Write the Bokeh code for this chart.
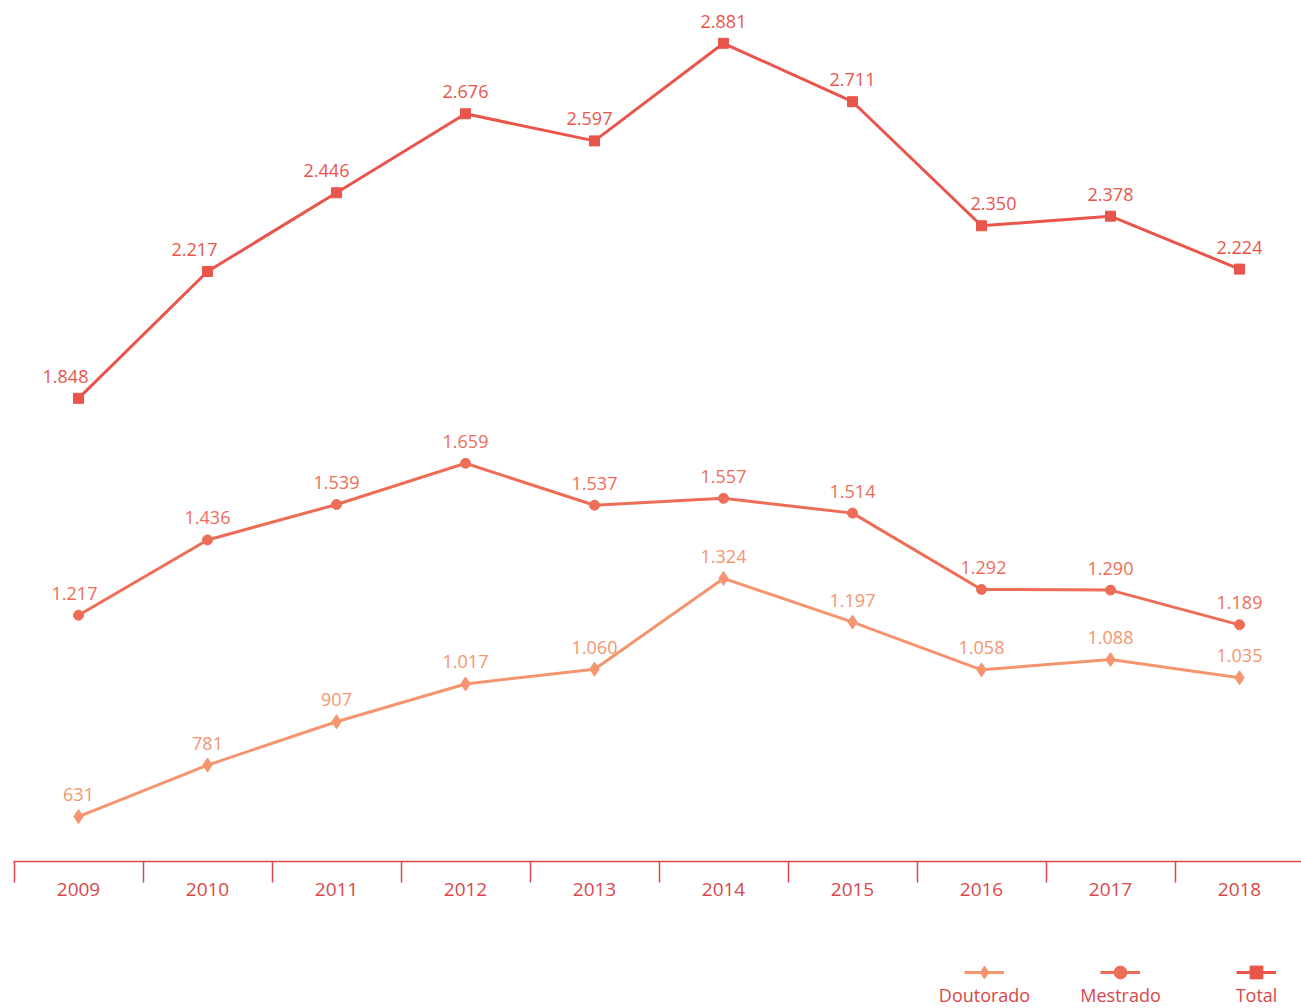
import numpy as np
from bokeh.plotting import figure
from bokeh.layouts import column
from bokeh.models import (Range1d, FixedTicker, Legend, LegendItem, Label,
                          ColumnDataSource)
from bokeh.core.properties import value
from bokeh.embed import file_html
from bokeh.resources import INLINE

years = [2009, 2010, 2011, 2012, 2013, 2014, 2015, 2016, 2017, 2018]
doutorado = [631, 781, 907, 1017, 1060, 1324, 1197, 1058, 1088, 1035]
mestrado = [1217, 1436, 1539, 1659, 1537, 1557, 1514, 1292, 1290, 1189]
total = [1848, 2217, 2446, 2676, 2597, 2881, 2711, 2350, 2378, 2224]
series_names = ["Doutorado", "Mestrado", "Total"]

FONT = "Open Sans"
C_DOUT = "#F4956F"
C_MEST = "#EE6D57"
C_TOT = "#E9554A"
C_AXIS = "#D9474A"

# small horizontal nudges (px) of value labels, to keep them clear of the lines
label_dx = {
    "Doutorado": [0, 0, 0, 0, 0, 0, 0, 0, 0, 0],
    "Mestrado": [-4, 0, 0, 0, 0, 0, 0, 2, 0, 0],
    "Total": [-13, -13, -10, 0, -5, 0, 0, 12, 0, 0],
}


def fmt(v):
    return f"{v:,}".replace(",", ".")


xs = list(range(len(years)))
px_per_unit = 129.0
x_start = -0.5 - 0.5 / px_per_unit
x_end = x_start + 1288 / px_per_unit
y_start, y_end = 500.4, 2982.2

p = figure(width=1301, height=910, x_range=Range1d(x_start, x_end),
           y_range=Range1d(y_start, y_end), output_backend="svg",
           toolbar_location=None, min_border_left=13, min_border_right=0,
           min_border_top=8, min_border_bottom=49)
p.background_fill_color = "white"
p.border_fill_color = "white"
p.outline_line_color = None
p.grid.visible = False
p.yaxis.visible = False

ax = p.xaxis[0]
ax.ticker = FixedTicker(ticks=xs, minor_ticks=[i - 0.5 for i in range(len(years) + 1)])
ax.major_label_overrides = {i: str(y) for i, y in enumerate(years)}
ax.major_tick_line_color = None
ax.major_tick_out = 0
ax.major_tick_in = 0
ax.minor_tick_out = 21
ax.minor_tick_in = 0
ax.minor_tick_line_color = C_AXIS
ax.minor_tick_line_width = 1.5
ax.axis_line_color = C_AXIS
ax.axis_line_width = 1.5
ax.major_label_standoff = 0
ax.major_label_text_font = FONT
ax.major_label_text_font_size = "19px"
ax.major_label_text_color = C_AXIS

specs = [
    ("Doutorado", doutorado, C_DOUT, "diamond", 14),
    ("Mestrado", mestrado, C_MEST, "circle", 10),
    ("Total", total, C_TOT, "square", 10),
]
for name, vals, col, marker, size in specs:
    src = ColumnDataSource(dict(x=xs, y=vals, lab=[fmt(v) for v in vals],
                                dx=label_dx[name]))
    p.line("x", "y", source=src, line_color=col, line_width=3)
    p.scatter("x", "y", source=src, marker=marker, size=size,
              fill_color=col, line_color=col)
    p.text("x", "y", text="lab", source=src, text_align="center",
           text_baseline="middle", x_offset="dx", y_offset=-22, text_color=col,
           text_font=value(FONT), text_font_size="18px")

# legend strip below the chart
lg = figure(width=1301, height=98, x_range=Range1d(0, 1), y_range=Range1d(0, 1),
            output_backend="svg", toolbar_location=None,
            x_axis_location=None, y_axis_location=None,
            min_border_left=0, min_border_right=0, min_border_top=0,
            min_border_bottom=0)
lg.grid.visible = False
lg.outline_line_color = None
lg.background_fill_color = "white"
lg.border_fill_color = "white"

items = []
for name, vals, col, marker, size in specs:
    # same series, drawn outside this strip's view; used only as legend swatches
    lr = lg.line(xs, vals, line_color=col, line_width=3)
    sr = lg.scatter(xs, vals, marker=marker, size=size, fill_color=col,
                    line_color=col)
    items.append(LegendItem(label="", renderers=[lr, sr]))

legend = Legend(items=items, orientation="horizontal", location=(951, 20),
                glyph_width=40, glyph_height=32, label_width=0, label_standoff=0,
                label_text_font_size="1px", label_text_alpha=0,
                spacing=96, padding=0, margin=0,
                border_line_color=None, background_fill_alpha=0)
lg.add_layout(legend, "center")

for i, n in enumerate(series_names):
    lg.add_layout(Label(x=971 + i * 136, y=14, x_units="screen", y_units="screen",
                        text=n, text_align="center", text_baseline="middle",
                        text_font=FONT, text_font_size="18px",
                        text_color=C_AXIS))

layout = column(p, lg, spacing=0)
open("out.html", "w").write(file_html(layout, INLINE))
